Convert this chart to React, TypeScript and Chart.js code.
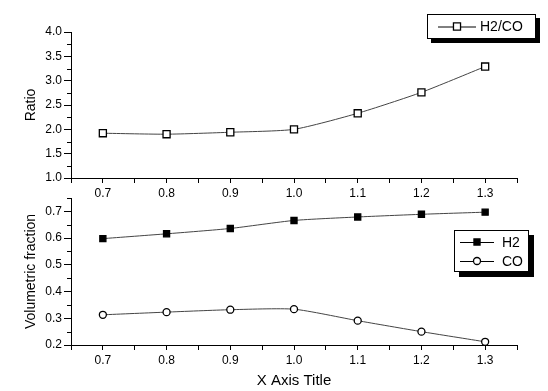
import React, { useEffect, useRef } from 'react';
import { Chart, registerables } from 'chart.js';

Chart.register(...registerables);

const xValues = [0.7, 0.8, 0.9, 1.0, 1.1, 1.2, 1.3];
const ratioH2CO = [1.92, 1.9, 1.94, 2.0, 2.33, 2.76, 3.29];
const fractionH2 = [0.598, 0.616, 0.636, 0.666, 0.679, 0.689, 0.697];
const fractionCO = [0.313, 0.323, 0.332, 0.334, 0.291, 0.25, 0.212];
const xTickLabels = ['0.7', '0.8', '0.9', '1.0', '1.1', '1.2', '1.3'];
const ratioTickLabels = ['1.0', '1.5', '2.0', '2.5', '3.0', '3.5', '4.0'];
const fractionTickLabels = ['0.2', '0.3', '0.4', '0.5', '0.6', '0.7'];

const FONT = "'Liberation Sans', Arial, sans-serif";
const W = 548;
const H = 391;

const pts = (ys: number[]) => xValues.map((x, i) => ({ x, y: ys[i] }));

const labelFrom = (list: string[]) => (v: number) => {
  const s = (Math.round(v * 100) / 100).toFixed(1);
  const exact = Math.abs(parseFloat(s) - v) < 1e-6;
  return exact && list.includes(s) ? s : '';
};

const isLabeled = (list: string[], v: number) => labelFrom(list)(v) !== '';

const minorTicks = {
  id: 'minorTicks',
  afterDraw(chart: any, _a: any, opts: any) {
    const s = chart.scales.y;
    if (!s) return;
    const ctx = chart.ctx;
    ctx.save();
    ctx.strokeStyle = '#000';
    ctx.lineWidth = 1;
    s.ticks.forEach((t: any) => {
      if (isLabeled(opts.labels, t.value)) return;
      const y = Math.round(s.getPixelForValue(t.value)) + 0.5;
      ctx.beginPath();
      ctx.moveTo(s.right - 4, y);
      ctx.lineTo(s.right, y);
      ctx.stroke();
    });
    ctx.restore();
  },
};

const drawMarker = (ctx: CanvasRenderingContext2D, style: string, fill: string, x: number, y: number, r: number) => {
  ctx.beginPath();
  if (style === 'rect') {
    const h = Math.SQRT1_2 * r;
    ctx.rect(x - h, y - h, 2 * h, 2 * h);
  } else {
    ctx.arc(x, y, r, 0, Math.PI * 2);
  }
  ctx.fillStyle = fill;
  ctx.fill();
  ctx.lineWidth = 1.3;
  ctx.strokeStyle = '#000';
  ctx.stroke();
};

const boxLegend = {
  id: 'boxLegend',
  afterDraw(chart: any, _a: any, opts: any) {
    const ctx = chart.ctx;
    const { x, y, w, h, rowH, lineX0, lineX1, textX, shadow } = opts;
    ctx.save();
    ctx.fillStyle = '#000';
    ctx.fillRect(x + shadow, y + shadow, w, h);
    ctx.fillStyle = '#fff';
    ctx.fillRect(x, y, w, h);
    ctx.strokeStyle = '#000';
    ctx.lineWidth = 1;
    ctx.strokeRect(x + 0.5, y + 0.5, w - 1, h - 1);
    chart.data.datasets.forEach((ds: any, i: number) => {
      const cy = y + opts.firstRow + i * rowH;
      ctx.beginPath();
      ctx.moveTo(lineX0, cy + 0.5);
      ctx.lineTo(lineX1, cy + 0.5);
      ctx.strokeStyle = '#000';
      ctx.lineWidth = 1;
      ctx.stroke();
      drawMarker(ctx, ds.pointStyle, ds.pointBackgroundColor, (lineX0 + lineX1) / 2, cy, ds.pointRadius);
      ctx.fillStyle = '#000';
      ctx.font = `14px ${FONT}`;
      ctx.textBaseline = 'middle';
      ctx.textAlign = 'left';
      ctx.fillText(ds.label, textX, cy + 1);
    });
    ctx.restore();
  },
};

const xScale = (height: number, title?: string) => ({
  type: 'linear',
  min: 0.65,
  max: 1.35,
  afterBuildTicks: (s: any) => {
    const t = [];
    for (let i = 0; i <= 14; i++) t.push({ value: Math.round((0.65 + i * 0.05) * 100) / 100 });
    s.ticks = t;
  },
  afterFit: (s: any) => {
    s.height = height;
  },
  border: { display: true, color: '#000', width: 1 },
  grid: { drawOnChartArea: false, drawTicks: true, tickLength: 5, tickColor: '#000' },
  ticks: {
    autoSkip: false,
    maxRotation: 0,
    padding: 3,
    color: '#000',
    font: { size: 12, family: FONT },
    callback: labelFrom(xTickLabels),
  },
  title: title
    ? { display: true, text: title, color: '#000', font: { size: 15, family: FONT }, padding: { top: 2, bottom: 1 } }
    : { display: false },
});

const yScale = (min: number, max: number, step: number, labels: string[], title: string) => ({
  type: 'linear',
  min,
  max,
  afterBuildTicks: (s: any) => {
    const t = [];
    const n = Math.round((max - min) / step);
    for (let i = 0; i <= n; i++) t.push({ value: Math.round((min + i * step) * 1000) / 1000 });
    s.ticks = t;
  },
  afterFit: (s: any) => {
    s.width = 71;
  },
  border: { display: true, color: '#000', width: 1 },
  grid: {
    drawOnChartArea: false,
    drawTicks: true,
    tickLength: 7,
    tickColor: (c: any) => (c.tick && isLabeled(labels, c.tick.value) ? '#000' : 'rgba(0,0,0,0)'),
  },
  ticks: {
    autoSkip: false,
    padding: 2,
    color: '#000',
    font: { size: 12, family: FONT },
    callback: labelFrom(labels),
  },
  title: { display: true, text: title, color: '#000', font: { size: 14, family: FONT }, padding: { top: 23, bottom: 0 } },
});

const lineDs = (label: string, ys: number[], style: string, fill: string, r: number) => ({
  label,
  data: pts(ys),
  borderColor: '#444',
  borderWidth: 1,
  tension: 0.2,
  pointStyle: style,
  pointRadius: r,
  pointBackgroundColor: fill,
  pointBorderColor: '#000',
  pointBorderWidth: 1.3,
});

export default function App() {
  const topRef = useRef<HTMLCanvasElement>(null);
  const botRef = useRef<HTMLCanvasElement>(null);

  useEffect(() => {
    const top = new Chart(topRef.current as HTMLCanvasElement, {
      type: 'line',
      data: { datasets: [lineDs('H2/CO', ratioH2CO, 'rect', '#fff', 5)] as any },
      options: {
        animation: false,
        responsive: false,
        events: [],
        layout: { padding: { top: 32, right: 31, left: 0, bottom: H - 178 - 22 } },
        plugins: {
          legend: { display: false },
          tooltip: { enabled: false },
          minorTicks: { labels: ratioTickLabels },
          boxLegend: { x: 427, y: 14, w: 109, h: 25, rowH: 0, firstRow: 12.5, lineX0: 438, lineX1: 476, textX: 480, shadow: 4 },
        } as any,
        scales: {
          x: xScale(22) as any,
          y: yScale(1.0, 4.0, 0.25, ratioTickLabels, 'Ratio') as any,
        },
      },
      plugins: [minorTicks, boxLegend],
    });
    const bot = new Chart(botRef.current as HTMLCanvasElement, {
      type: 'line',
      data: {
        datasets: [
          lineDs('H2', fractionH2, 'rect', '#000', 4.3),
          lineDs('CO', fractionCO, 'circle', '#fff', 3.5),
        ] as any,
      },
      options: {
        animation: false,
        responsive: false,
        events: [],
        layout: { padding: { top: 198, right: 31, left: 0, bottom: 0 } },
        plugins: {
          legend: { display: false },
          tooltip: { enabled: false },
          minorTicks: { labels: fractionTickLabels },
          boxLegend: { x: 454, y: 230, w: 75, h: 42, rowH: 19, firstRow: 12, lineX0: 460, lineX1: 494, textX: 502, shadow: 5 },
        } as any,
        scales: {
          x: xScale(46, 'X Axis Title') as any,
          y: yScale(0.2, 0.75, 0.05, fractionTickLabels, 'Volumetric fraction') as any,
        },
      },
      plugins: [minorTicks, boxLegend],
    });
    return () => {
      top.destroy();
      bot.destroy();
    };
  }, []);

  return (
    <div style={{ position: 'absolute', left: 0, top: 0, width: W, height: H, background: '#fff' }}>
      <canvas ref={botRef} width={W} height={H} style={{ position: 'absolute', left: 0, top: 0 }} />
      <canvas ref={topRef} width={W} height={H} style={{ position: 'absolute', left: 0, top: 0 }} />
    </div>
  );
}
